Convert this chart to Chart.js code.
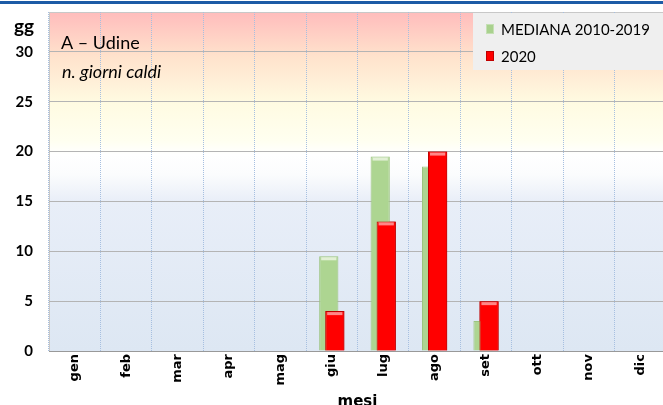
<!DOCTYPE html>
<html>
<head>
<meta charset="utf-8">
<script src="https://cdn.jsdelivr.net/npm/chart.js@4/dist/chart.umd.min.js"></script>
<style>
  html, body { margin: 0; padding: 0; background: #fff; }
  #box { width: 663px; height: 405px; overflow: hidden; position: relative; }
</style>
</head>
<body>
<div id="box"><canvas id="graficoCaldi" width="666" height="405"></canvas></div>
<script>
const mesi = ['gen', 'feb', 'mar', 'apr', 'mag', 'giu', 'lug', 'ago', 'set', 'ott', 'nov', 'dic'];
const mediana = [0, 0, 0, 0, 0, 9.5, 19.5, 18.5, 3, 0, 0, 0];
const anno2020 = [0, 0, 0, 0, 0, 4, 13, 20, 5, 0, 0, 0];
const tickGiorni = [0, 5, 10, 15, 20, 25, 30];
const titolo = 'A \u2013 Udine';
const sottotitolo = 'n. giorni caldi';

Chart.defaults.font.family = 'Lato';
Chart.defaults.color = '#000';

// sfondo a fasce e cornice dell'area del grafico
const sfondo = {
  id: 'sfondo',
  beforeDraw(chart) {
    const {ctx, chartArea: a} = chart;
    ctx.save();
    ctx.fillStyle = '#ffffff';
    ctx.fillRect(0, 0, chart.width, chart.height);
    ctx.fillStyle = '#1d5ba6';
    ctx.fillRect(0, 1, chart.width, 3);
    const g = ctx.createLinearGradient(0, a.top, 0, a.bottom);
    g.addColorStop(0, '#ffbcbc');
    g.addColorStop(0.13, '#ffe2cc');
    g.addColorStop(0.27, '#fffbe2');
    g.addColorStop(0.38, '#fffff0');
    g.addColorStop(0.42, '#ffffff');
    g.addColorStop(0.48, '#fbfcfd');
    g.addColorStop(0.56, '#e8eef8');
    g.addColorStop(1, '#dde7f3');
    ctx.fillStyle = g;
    ctx.fillRect(a.left, a.top, a.right - a.left, a.bottom - a.top);
    ctx.strokeStyle = '#c8c8c8';
    ctx.lineWidth = 1;
    ctx.strokeRect(a.left + 0.5, a.top + 0.5, a.right - a.left - 1, a.bottom - a.top);
    ctx.restore();
  },
  afterDatasetsDraw(chart) {
    const {ctx} = chart;
    // le barre 2020 stanno davanti alla mediana
    chart.getDatasetMeta(1).controller.draw();
    // riflesso chiaro in cima alle barre
    const luci = ['rgba(235,245,225,0.85)', 'rgba(255,150,150,0.9)'];
    const rosse = chart.getDatasetMeta(1).data;
    [0, 1].forEach(i => {
      const ds = chart.data.datasets[i];
      chart.getDatasetMeta(i).data.forEach((bar, j) => {
        if (!ds.data[j]) return;
        const w = bar.width;
        const x0 = bar.x - w / 2 + 2;
        let x1 = bar.x + w / 2 - 2;
        if (i === 0) {
          if (bar.y >= rosse[j].y) return;
          if (bar.y + 4 > rosse[j].y) x1 = rosse[j].x - w / 2;
        }
        ctx.save();
        ctx.fillStyle = luci[i];
        ctx.fillRect(x0, bar.y + 1, x1 - x0, 3);
        ctx.restore();
      });
    });
  },
  afterDraw(chart) {
    const {ctx} = chart;
    ctx.save();
    // titolo
    ctx.fillStyle = '#000';
    ctx.textBaseline = 'middle';
    ctx.font = '18px Lato';
    ctx.fillText(titolo, 61, 43);
    ctx.font = 'italic 18px Lato';
    ctx.fillText(sottotitolo, 62, 72);
    // unità asse y
    ctx.font = 'bold 19px Lato';
    ctx.fillText('gg', 14, 27);
    // legenda
    ctx.fillStyle = '#efefef';
    ctx.fillRect(473, 13, 200, 57);
    const colori = ['#a9d18e', '#ff0000'];
    const bordi = ['#c5e0b4', '#c00000'];
    const yy = [29, 56];
    ctx.font = '15px Lato';
    chart.data.datasets.forEach((ds, i) => {
      ctx.fillStyle = colori[i];
      ctx.fillRect(486, yy[i] - 5, 8, 10);
      ctx.strokeStyle = bordi[i];
      ctx.strokeRect(486.5, yy[i] - 4.5, 7, 9);
      ctx.fillStyle = '#000';
      ctx.fillText(ds.label, 501, yy[i] + 1);
    });
    ctx.restore();
  }
};

const grafico = new Chart(document.getElementById('graficoCaldi'), {
  type: 'bar',
  data: {
    labels: mesi,
    datasets: [{
      label: 'MEDIANA 2010-2019',
      data: mediana,
      backgroundColor: '#add591',
      borderColor: '#9cc47f',
      borderWidth: ctx => ctx.raw ? 1 : 0,
      categoryPercentage: 0.234,
      barPercentage: 3.2
    }, {
      label: '2020',
      data: anno2020,
      backgroundColor: '#ff0000',
      borderColor: '#c00000',
      borderWidth: ctx => ctx.raw ? 1 : 0,
      categoryPercentage: 0.234,
      barPercentage: 3.2
    }]
  },
  options: {
    responsive: false,
    animation: false,
    devicePixelRatio: 1,
    layout: { padding: { top: 12, left: 0, right: 0, bottom: 0 } },
    plugins: {
      legend: { display: false },
      tooltip: { enabled: false }
    },
    scales: {
      x: {
        grid: { offset: true, color: '#a6bfe0', drawTicks: false },
        border: { display: true, color: '#999999', dash: [1, 1] },
        ticks: {
          maxRotation: 90, minRotation: 90, padding: 3,
          font: { family: 'DejaVu Sans', size: 13, weight: 'bold' }
        },
        title: {
          display: true, text: 'mesi',
          font: { family: 'DejaVu Sans', size: 15, weight: 'bold' }, padding: { top: 0, bottom: -6 }
        },
        afterFit: scale => { scale.height = 54; scale.paddingLeft = 0; scale.paddingRight = 0; }
      },
      y: {
        min: 0,
        max: 34,
        afterBuildTicks: scale => { scale.ticks = tickGiorni.map(v => ({ value: v })); },
        afterFit: scale => { scale.width = 49; scale.paddingTop = 0; scale.paddingBottom = 0; },
        grid: { color: '#b4b4b4', drawTicks: false },
        border: { display: false },
        ticks: { padding: 16, font: { size: 15, weight: 'bold' } }
      }
    }
  },
  plugins: [sfondo]
});
</script>
</body>
</html>
